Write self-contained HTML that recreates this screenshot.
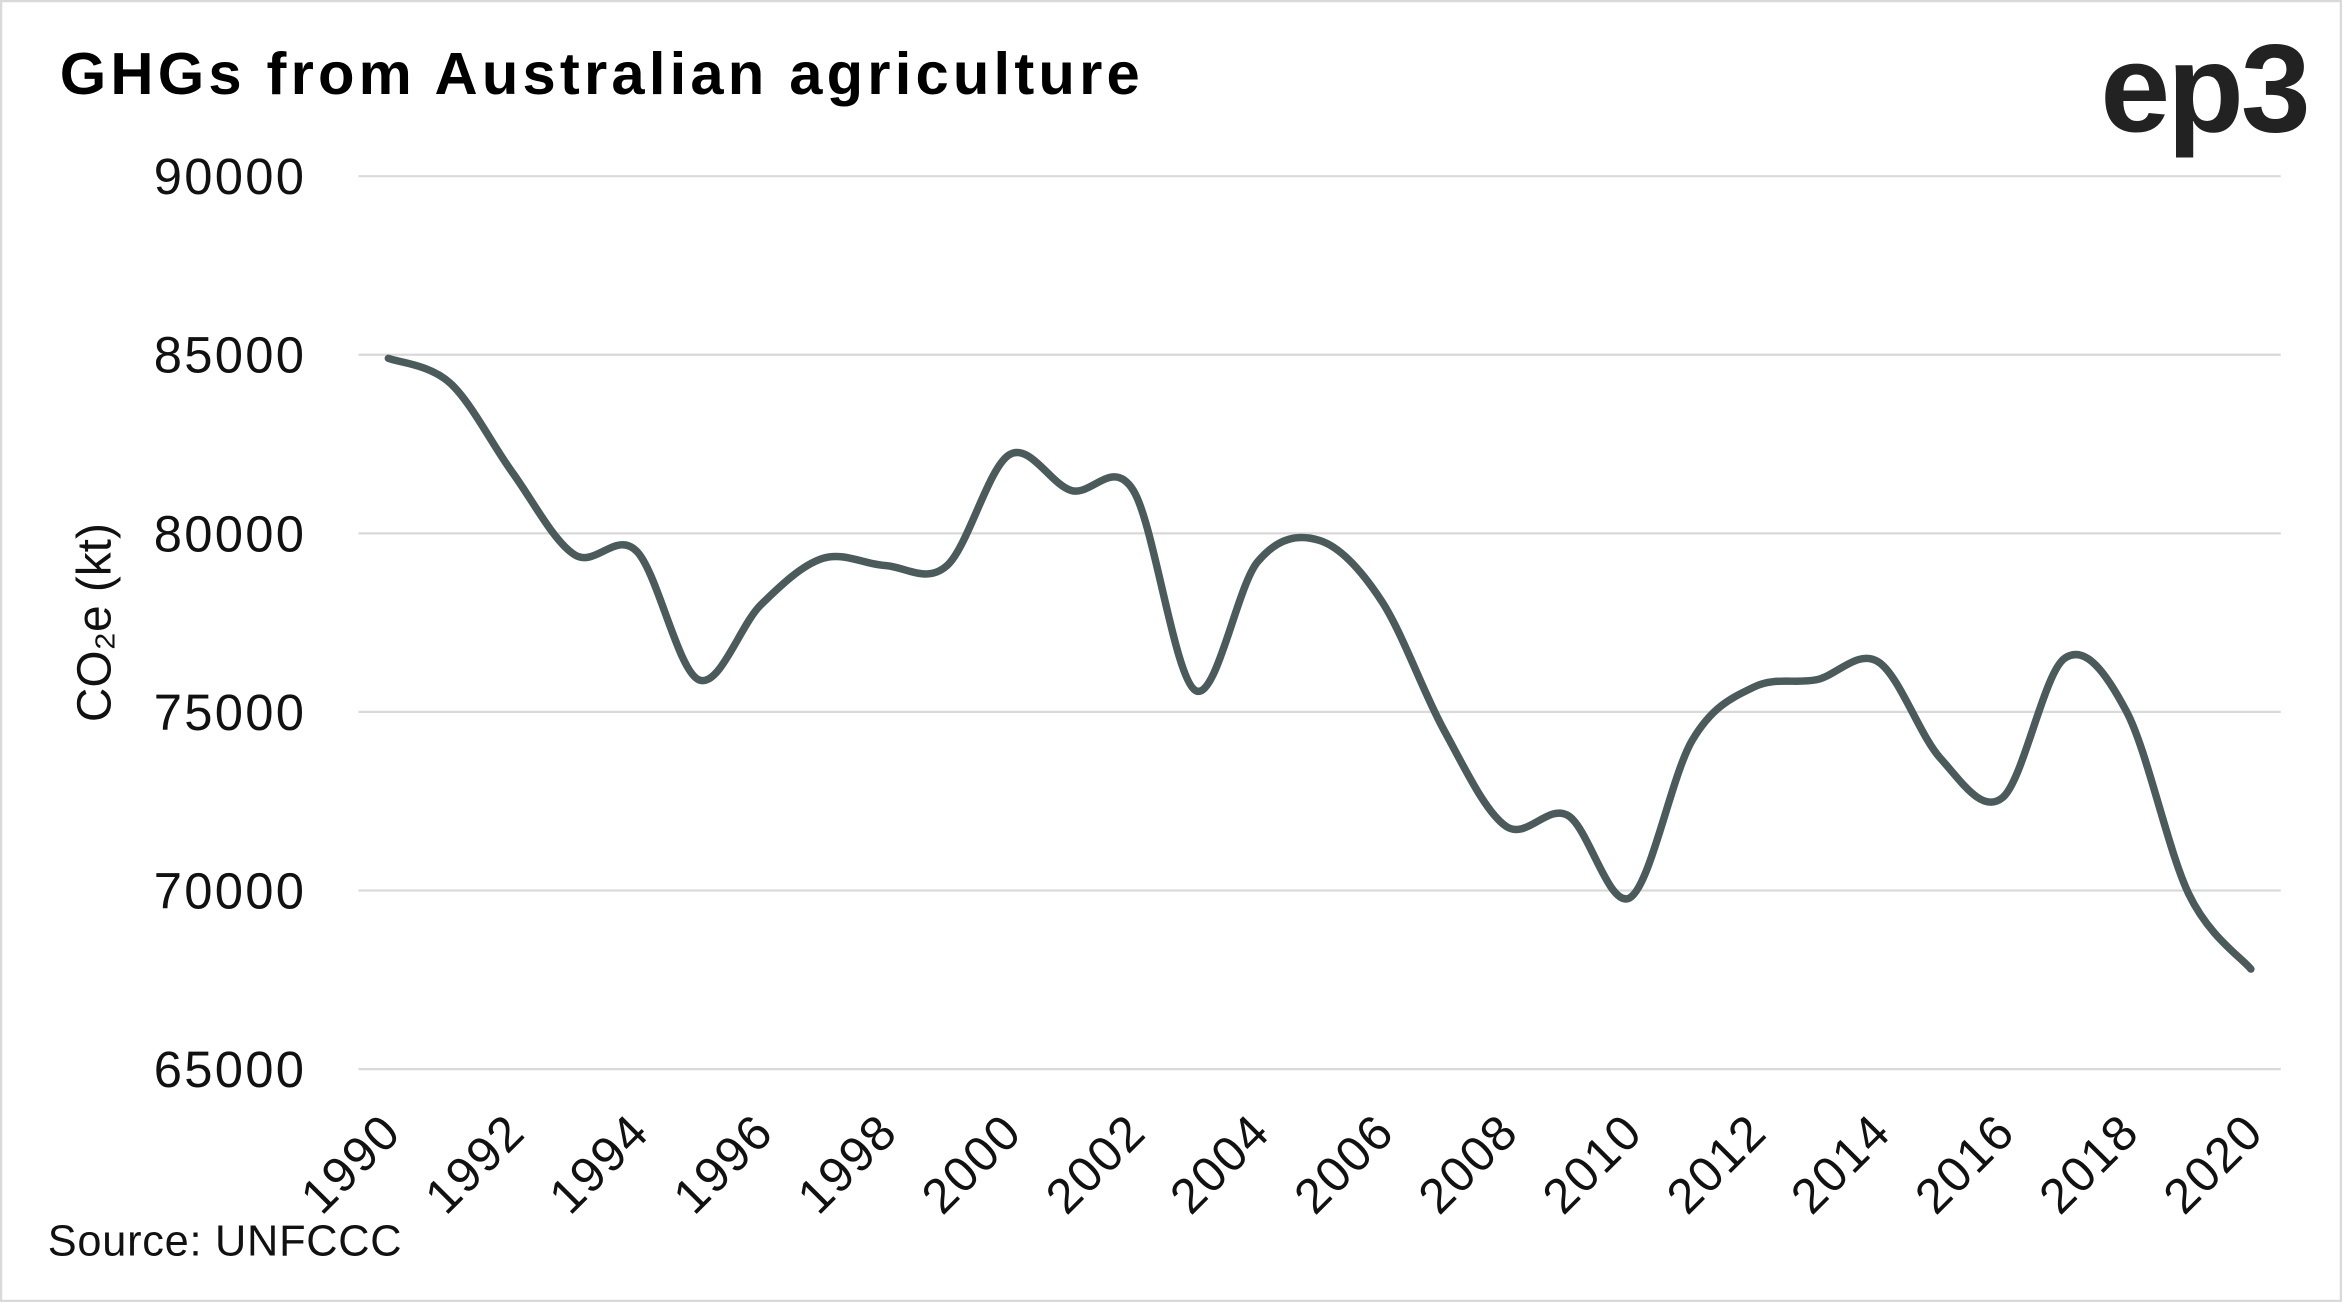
<!DOCTYPE html>
<html><head><meta charset="utf-8"><style>
html,body{margin:0;padding:0;background:#fff;}
svg{display:block;}
text{font-family:"Liberation Sans",sans-serif;}
</style></head><body>
<svg id="chart" width="2342" height="1302" viewBox="0 0 1568 872" preserveAspectRatio="none" xmlns="http://www.w3.org/2000/svg">
<rect x="0.5" y="0.5" width="1567" height="871" fill="#fff" stroke="#d9d9d9" stroke-width="2"/>
<text x="40" y="63" font-size="40" font-weight="bold" letter-spacing="2.8" fill="#000">GHGs from Australian agriculture</text>
<text x="1545" y="88" font-size="84" font-weight="bold" fill="#222" text-anchor="end" letter-spacing="-2">ep3</text>
<text transform="translate(74,417) rotate(-90)" font-size="32" text-anchor="middle" fill="#111">CO₂e (kt)</text>
<text x="32" y="841" font-size="29" letter-spacing="0.5" fill="#111">Source: UNFCCC</text>
<g id="grid"></g><g id="yt"></g><g id="xt"></g><g id="plot"></g>
</svg>
<script>
const years=[1990,1991,1992,1993,1994,1995,1996,1997,1998,1999,2000,2001,2002,2003,2004,2005,2006,2007,2008,2009,2010,2011,2012,2013,2014,2015,2016,2017,2018,2019,2020];
const values=[84900,84200,81700,79400,79500,75900,78000,79300,79100,79100,82200,81200,81200,75600,79200,79800,78100,74500,71800,72100,69800,74200,75700,75900,76400,73700,72600,76500,75000,69900,67800];
const yTicks=[65000,70000,75000,80000,85000,90000];
const xLabels=[1990,1992,1994,1996,1998,2000,2002,2004,2006,2008,2010,2012,2014,2016,2018,2020];
const NS="http://www.w3.org/2000/svg";
const x=v=>260+(v-1990)*(1507-260)/30;
const y=v=>716-(v-65000)*(716-118)/25000;
const mk=(t,a,p)=>{const e=document.createElementNS(NS,t);for(const k in a)e.setAttribute(k,a[k]);document.getElementById(p).appendChild(e);return e;};
yTicks.forEach(t=>{
 const l=mk('line',{x1:240,x2:1527,y1:y(t),y2:y(t),stroke:'#d9d9d9','stroke-width':1.5},'grid');
 
 
 const tx=mk('text',{x:205,y:y(t)+12,'font-size':34,'letter-spacing':1.5,'text-anchor':'end',fill:'#111'},'yt');
 tx.textContent=t;
 
 
});
xLabels.forEach(t=>{
 const tx=mk('text',{transform:`translate(${x(t)+10},${760}) rotate(-45)`,'font-size':33,'letter-spacing':1,'text-anchor':'end',fill:'#111'},'xt');
 tx.textContent=t;
 
 
});
const P=years.map((yr,i)=>[x(yr),y(values[i])]);
let d=`M${P[0][0]},${P[0][1]}`;
for(let i=0;i<P.length-1;i++){
 const p0=P[Math.max(0,i-1)],p1=P[i],p2=P[i+1],p3=P[Math.min(P.length-1,i+2)];
 const c1=[p1[0]+(p2[0]-p0[0])/6,p1[1]+(p2[1]-p0[1])/6];
 const c2=[p2[0]-(p3[0]-p1[0])/6,p2[1]-(p3[1]-p1[1])/6];
 d+=` C${c1[0]},${c1[1]} ${c2[0]},${c2[1]} ${p2[0]},${p2[1]}`;
}
const line=mk('path',{d:d,fill:'none',stroke:'#4b5a5a','stroke-width':5,'stroke-linecap':'round','stroke-linejoin':'round'},'plot');


</script>
</body></html>
